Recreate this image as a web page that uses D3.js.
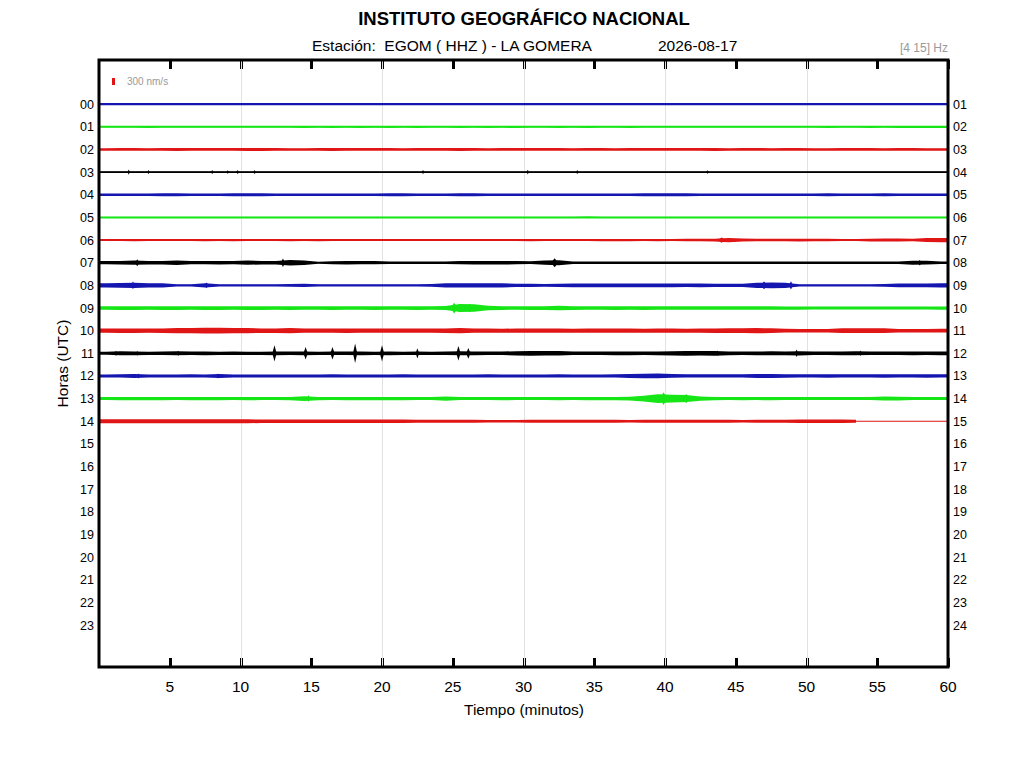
<!DOCTYPE html>
<html>
<head>
<meta charset="utf-8">
<script src="https://cdn.jsdelivr.net/npm/d3@7"></script>
<style>
  body { margin: 0; background: #fff; }
  svg text { font-family: "Liberation Sans", Arial, sans-serif; }
</style>
</head>
<body>
<svg id="heli" width="1024" height="768"></svg>
<script>
// Etiquetas y ticks
var horasIzq = d3.range(24).map(function(h) { return d3.format("02")(h); }),
	horasDer = d3.range(24).map(function(h) { return d3.format("02")(h + 1); }),
	ticksMin = [5, 10, 15, 20, 25, 30, 35, 40, 45, 50, 55, 60],
	gridMin = [10, 20, 30, 40, 50],
	colores = ["#1515b0", "#16e616", "#e01515", "#000000"];

var h00 = [50,50,45,50,50,45,50,50,45,45, 50,45,45,45,45,45,45,45,45,45, 45,45,50,50,50,45,50,50,45,50, 50,45,50,50,45,50,45,50,50,45, 45,50,45,45,45,45,50,45,45,45, 45,45,45,45,45,45,45,45,45,45];
var h01 = [45,45,45,50,45,45,45,45,45,45, 45,45,45,45,50,45,50,45,50,45, 50,45,50,45,45,50,45,50,45,50, 45,45,50,45,50,45,45,50,45,45, 45,45,45,45,45,45,45,45,45,45, 45,50,45,45,50,45,50,50,50,50];
var h02 = [55,60,60,55,60,65,60,60,60,60, 65,65,60,55,55,60,65,60,60,60, 60,55,60,60,60,65,60,55,60,60, 60,60,60,55,60,60,55,60,60,60, 60,60,60,65,55,60,60,55,60,60, 55,55,60,60,60,55,60,60,55,55];
var h03 = [42,42,42,42,42,42,42,42,42,42, 42,42,42,42,42,42,42,42,42,42, 42,42,42,42,42,42,42,42,42,42, 42,42,42,42,42,42,42,42,42,42, 42,42,42,42,42,42,42,42,42,42, 42,42,42,42,42,42,42,42,42,42];
var h04 = [50,50,55,55,60,60,55,55,55,60, 60,60,55,50,55,55,50,55,55,50, 60,60,55,50,55,60,60,55,50,50, 55,55,50,55,50,55,55,55,60,60, 60,60,55,55,50,50,55,55,55,55, 55,60,50,55,55,60,55,55,50,50];
var h05 = [42,42,42,42,42,42,42,42,42,42, 42,42,42,42,42,42,42,42,42,42, 42,42,42,42,42,42,42,42,42,42, 42,42,42,42,45,42,42,42,42,42, 42,42,42,42,42,42,42,42,42,42, 42,42,42,42,42,42,42,42,42,42];
var h06 = [45,45,50,45,45,45,45,50,45,50, 45,45,45,50,45,50,45,45,45,45, 45,45,45,45,45,45,45,45,45,45, 50,45,45,45,45,50,50,50,45,50, 45,55,55,60,90,65,55,55,55,60, 55,55,45,45,60,65,65,55,85,90];
var h07 = [70,75,90,75,75,95,70,70,75,70, 90,75,75,120,100,45,65,75,70,70, 55,55,55,55,55,70,75,75,75,70, 60,90,110,55,55,55,55,55,50,55, 50,50,50,50,50,55,50,50,55,50, 50,50,55,50,50,55,55,85,80,55];
var h08 = [95,100,110,95,95,50,45,90,45,45, 45,45,45,60,65,45,45,45,45,45, 45,45,45,55,90,95,95,95,90,70, 65,60,65,80,85,85,85,80,85,85, 80,75,85,65,65,70,110,120,115,50, 45,45,45,45,45,60,85,85,85,90];
var h09 = [75,80,80,75,80,80,75,80,80,75, 80,80,75,80,75,75,80,75,75,80, 75,75,80,75,90,170,160,100,80,75, 80,80,100,80,75,75,80,75,80,75, 75,75,75,75,75,75,75,75,70,70, 65,65,65,65,65,65,65,65,65,70];
var h10 = [90,95,95,90,95,110,115,120,120,115, 110,95,95,115,90,90,90,95,90,90, 90,90,90,90,95,110,90,90,85,90, 90,90,90,85,90,90,90,90,85,90, 90,85,90,95,105,105,110,105,80,75, 75,75,100,105,105,100,75,75,75,80];
var h11 = [65,85,80,70,75,85,75,80,70,75, 70,70,80,75,80,70,75,75,80,70, 80,70,75,70,75,85,80,75,75,90, 100,95,95,75,75,75,80,80,75,80, 90,100,95,100,80,75,80,85,80,90, 75,75,80,85,75,75,75,80,75,80];
var h12 = [65,70,85,65,65,65,70,65,85,65, 65,65,65,65,65,65,70,65,65,65, 65,70,65,65,65,65,65,70,65,65, 65,65,70,65,65,65,70,85,95,100, 80,70,70,70,70,70,85,85,75,70, 70,75,70,70,70,75,70,70,75,70];
var h13 = [65,70,70,70,70,65,70,70,70,65, 70,65,65,70,100,70,65,70,70,70, 70,70,65,65,95,65,65,65,70,65, 65,65,70,65,70,70,70,80,120,190, 170,150,90,70,65,70,65,70,65,65, 65,65,65,65,65,85,80,65,65,65];
var h14 = [85,85,85,90,85,85,85,85,90,85, 85,75,70,70,70,70,70,70,70,70, 70,70,60,60,60,60,60,55,55,55, 60,60,60,60,60,60,60,55,60,60, 60,60,60,60,60,55,60,60,60,75, 80,80,75,60,null,null,null,null,null,null];
var trazas = [h00, h01, h02, h03, h04, h05, h06, h07, h08, h09, h10, h11, h12, h13, h14];
var finHora14 = 53.5;

// Pulsos y sismos: [hora, minuto, amplitud nm/s, semiancho min]
var eventos = [
	[3, 2.1, 110, 0.08], [3, 3.5, 90, 0.08], [3, 8.0, 90, 0.08], [3, 9.1, 80, 0.08], [3, 9.8, 90, 0.08],
	[3, 11.0, 90, 0.08], [3, 22.9, 90, 0.08], [3, 30.3, 100, 0.08], [3, 33.8, 90, 0.08], [3, 43.0, 80, 0.08],
	[6, 44.0, 110, 0.3],
	[7, 2.7, 150, 0.15], [7, 13.0, 180, 0.15], [7, 32.2, 190, 0.25], [7, 58.0, 120, 0.15],
	[8, 2.4, 170, 0.15], [8, 7.6, 120, 0.15], [8, 47.0, 170, 0.25], [8, 48.9, 180, 0.15],
	[9, 25.1, 230, 0.25], [9, 26.2, 180, 0.3],
	[11, 1.2, 110, 0.1], [11, 2.7, 100, 0.1], [11, 5.6, 110, 0.1], [11, 12.4, 350, 0.15],
	[11, 14.6, 270, 0.15], [11, 16.5, 270, 0.15], [11, 18.1, 420, 0.15], [11, 20.0, 350, 0.15],
	[11, 22.5, 220, 0.12], [11, 25.4, 310, 0.15], [11, 26.1, 230, 0.15], [11, 43.7, 120, 0.1],
	[11, 49.3, 160, 0.12], [11, 53.8, 120, 0.1],
	[12, 2.8, 110, 0.12], [12, 8.4, 110, 0.12],
	[13, 14.8, 140, 0.15], [13, 39.9, 270, 0.25], [13, 41.5, 200, 0.25]
];

function helicorder() {
	var svg = d3.select("#heli"),
		left = 99, right = 948, top = 60, bottom = 667,
		x = d3.scaleLinear().domain([0, 60]).range([left, right]),
		y = d3.scaleLinear().domain([-1.95, 24.85]).range([top, bottom]),
		amp = d3.scaleLinear().domain([0, 300]).range([0, 7]);

	// --- TITULOS --- //
	svg.append("text").attr("x", 524).attr("y", 25).attr("text-anchor", "middle")
		.style("font-size", "18.5px").style("font-weight", "bold").text("INSTITUTO GEOGRÁFICO NACIONAL");
	svg.append("text").attr("x", 312).attr("y", 51).style("font-size", "15.5px")
		.style("white-space", "pre").text("Estación:  EGOM ( HHZ ) - LA GOMERA");
	svg.append("text").attr("x", 658).attr("y", 51).style("font-size", "15.5px").text("2026-08-17");
	svg.append("text").attr("x", 948).attr("y", 52).attr("text-anchor", "end")
		.style("font-size", "12px").attr("fill", "#999").text("[4 15] Hz");

	// --- TICKS Y REJILLA --- //
	var ticks = svg.append("g").attr("shape-rendering", "crispEdges");
	ticksMin.forEach(function(m) {
		var xm = Math.round(x(m)) + 0.5;
		ticks.append("line").attr("x1", xm).attr("x2", xm).attr("y1", top).attr("y2", top + 9)
			.attr("stroke", "#000").attr("stroke-width", 3);
		ticks.append("line").attr("x1", xm).attr("x2", xm).attr("y1", bottom - 9).attr("y2", bottom)
			.attr("stroke", "#000").attr("stroke-width", 3);
	});
	svg.append("g").attr("shape-rendering", "crispEdges")
		.selectAll("line").data(gridMin).enter().append("line")
		.attr("x1", function(d) { return Math.round(x(d)) + 0.5; })
		.attr("x2", function(d) { return Math.round(x(d)) + 0.5; })
		.attr("y1", top).attr("y2", bottom)
		.attr("stroke", "#e2e2e2").attr("stroke-width", 1);

	// --- TRAZAS --- //
	var area = d3.area()
		.x(function(d) { return x(d.m); })
		.y0(function(d) { return d.y + amp(d.a); })
		.y1(function(d) { return d.y - amp(d.a); });

	trazas.forEach(function(serie, h) {
		var col = colores[h % 4],
			yy = y(h),
			pts = [],
			fin = (h === 14) ? finHora14 : 60;
		serie.forEach(function(a, i) {
			if (a !== null) pts.push({m: i + 0.5, a: a, y: yy});
		});
		pts.unshift({m: 0, a: pts[0].a, y: yy});
		pts.push({m: fin, a: pts[pts.length - 1].a, y: yy});

		svg.append("line").attr("x1", x(0)).attr("x2", x(60)).attr("y1", yy).attr("y2", yy)
			.attr("stroke", col).attr("stroke-width", 1);
		svg.append("path").datum(pts).attr("d", area).attr("fill", col);

		eventos.filter(function(e) { return e[0] === h; }).forEach(function(e) {
			var ev = [{m: e[1] - e[3], a: 0, y: yy}, {m: e[1], a: e[2], y: yy}, {m: e[1] + e[3], a: 0, y: yy}];
			svg.append("path").datum(ev).attr("d", area).attr("fill", col);
		});
	});

	// --- ESCALA --- //
	svg.append("rect").attr("x", 112).attr("y", 85 - amp(300)).attr("width", 3).attr("height", amp(300))
		.attr("fill", "#e01515");
	svg.append("text").attr("x", 127).attr("y", 85).style("font-size", "10px").attr("fill", "#999").text("300 nm/s");

	// --- MARCO Y EJES --- //
	svg.append("rect").attr("x", left).attr("y", top).attr("width", right - left).attr("height", bottom - top)
		.attr("fill", "none").attr("stroke", "#000").attr("stroke-width", 3);

	svg.append("g").selectAll("text").data(horasIzq).enter().append("text")
		.attr("x", 94).attr("y", function(d, i) { return y(i) + 4.5; })
		.attr("text-anchor", "end").style("font-size", "12.5px").text(function(d) { return d; });
	svg.append("g").selectAll("text").data(horasDer).enter().append("text")
		.attr("x", 953).attr("y", function(d, i) { return y(i) + 4.5; })
		.style("font-size", "12.5px").text(function(d) { return d; });

	svg.append("g").selectAll("text").data(ticksMin).enter().append("text")
		.attr("x", function(d) { return x(d); }).attr("y", 692)
		.attr("text-anchor", "middle").style("font-size", "15.5px").text(function(d) { return d; });

	svg.append("text").attr("x", 524).attr("y", 715).attr("text-anchor", "middle")
		.style("font-size", "15.5px").text("Tiempo (minutos)");
	svg.append("text").attr("transform", "translate(68," + ((top + bottom) / 2) + ") rotate(-90)")
		.attr("text-anchor", "middle").style("font-size", "15.5px").text("Horas (UTC)");
}

helicorder();
</script>
</body>
</html>
